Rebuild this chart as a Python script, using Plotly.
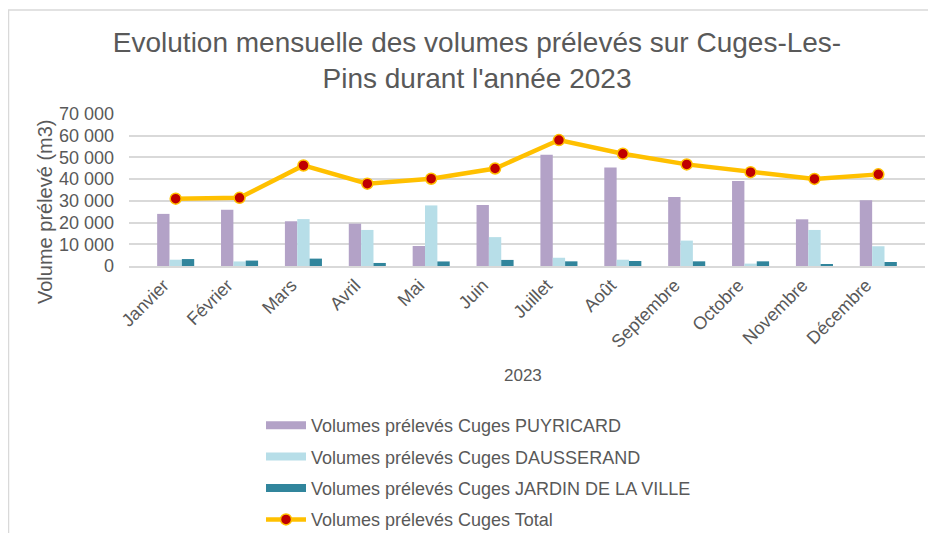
import plotly.graph_objects as go

months = ["Janvier", "Février", "Mars", "Avril", "Mai", "Juin", "Juillet",
          "Août", "Septembre", "Octobre", "Novembre", "Décembre"]
puyricard = [24000, 25900, 20600, 19500, 9200, 28100, 51200, 45400, 31800, 39100, 21500, 30300]
dausserand = [2900, 2100, 21600, 16600, 27900, 13300, 3800, 2900, 11700, 1100, 16600, 9100]
jardin = [3200, 2500, 3400, 1400, 2100, 2800, 2150, 2300, 2150, 2150, 900, 1850]
total = [31000, 31400, 46300, 37900, 40200, 44900, 58000, 51700, 46800, 43200, 40100, 42200]

names = ["Volumes prélevés Cuges PUYRICARD", "Volumes prélevés Cuges DAUSSERAND",
         "Volumes prélevés Cuges JARDIN DE LA VILLE", "Volumes prélevés Cuges Total"]
colors = ["#B3A2C7", "#B7DEE8", "#31859C"]

FONT = "Liberation Sans, Arial, sans-serif"
TXT = "#595959"

fig = go.Figure()
for i, vals in enumerate([puyricard, dausserand, jardin]):
    fig.add_trace(go.Bar(x=months, y=vals, name=names[i], marker_color=colors[i],
                         marker_line_width=0, showlegend=False))
    # legend-only entry with a wide rectangular swatch
    fig.add_trace(go.Scatter(x=[None], y=[None], name=names[i], mode="lines",
                             line=dict(color=colors[i], width=8), legendgroup=str(i)))
fig.add_trace(go.Scatter(x=months, y=total, name=names[3], mode="lines+markers",
                         line=dict(color="#FFC000", width=4.5),
                         marker=dict(color="#C00000", size=11, line=dict(color="#FFC000", width=1.5)),
                         legendgroup="3"))

# page body has an 8px margin: figure pixel = screen pixel - 8
OFF = 8
W, H = 920, 525
L = 129 - OFF
T = 114 - OFF
R = W - (925 - OFF)
B = H - (266 - OFF)
pw, ph = W - L - R, H - T - B

def px(x):
    return (x - OFF - L) / pw

def py(y):
    return (H - B - (y - OFF)) / ph

fig.update_layout(
    width=W, height=H,
    margin=dict(l=L, r=R, t=T, b=B, autoexpand=False),
    paper_bgcolor="white", plot_bgcolor="white",
    font=dict(family=FONT, color=TXT, size=18),
    separators=", ",
    barmode="group", bargap=0.42, bargroupgap=0,
    title=dict(text="Evolution mensuelle des volumes prélevés sur Cuges-Les-<br>Pins durant l'année 2023",
               x=(477 - OFF) / W, xanchor="center", y=1 - (52 - OFF) / H, yanchor="middle",
               font=dict(size=28, color=TXT, family=FONT)),
    xaxis=dict(tickangle=-45, tickfont=dict(size=18, color=TXT), showgrid=False,
               showline=True, linecolor="#D9D9D9", linewidth=1.5, ticks="", automargin=False,
               ticklabelshift=-12),
    yaxis=dict(range=[0, 70000], dtick=10000, tickformat=",d", showgrid=True,
               gridcolor="#D9D9D9", gridwidth=1.5, zeroline=False, showline=False,
               tickfont=dict(size=18, color=TXT), ticks="", ticklabelstandoff=14, automargin=False),
    legend=dict(x=px(261), y=py(407), xanchor="left", yanchor="top", orientation="v",
                font=dict(size=18, color=TXT), tracegroupgap=5, itemwidth=40,
                bgcolor="rgba(0,0,0,0)"),
    annotations=[
        dict(text="Volume prélevé (m3)", xref="paper", yref="paper", x=px(45), y=py(212),
             textangle=-90, showarrow=False, xanchor="center", yanchor="middle",
             font=dict(size=20, color=TXT)),
        dict(text="2023", xref="paper", yref="paper", x=px(523), y=py(375),
             showarrow=False, xanchor="center", yanchor="middle",
             font=dict(size=17, color=TXT)),
    ],
    shapes=[
        dict(type="line", xref="paper", yref="paper", x0=px(8.5), x1=px(8.5), y0=py(10), y1=py(541),
             line=dict(color="#D9D9D9", width=1.5)),
        dict(type="line", xref="paper", yref="paper", x0=px(8), x1=px(936), y0=py(10), y1=py(10),
             line=dict(color="#D9D9D9", width=1.5)),
    ],
)

fig.write_html("out.html")
